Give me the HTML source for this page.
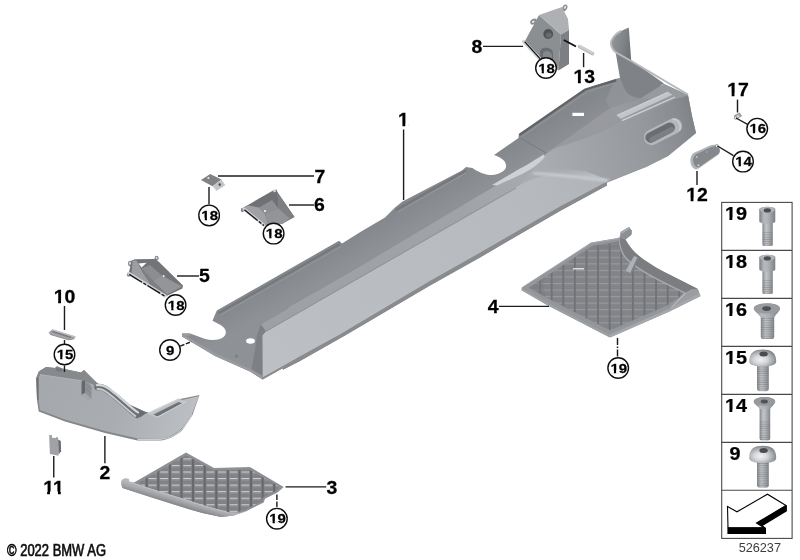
<!DOCTYPE html>
<html><head><meta charset="utf-8">
<style>
html,body{margin:0;padding:0;background:#fff;}
body{width:800px;height:560px;overflow:hidden;position:relative;font-family:"Liberation Sans",sans-serif;}
svg{position:absolute;left:0;top:0;display:block;}
text{font-family:"Liberation Sans",sans-serif;}
.lb{font-weight:bold;font-size:18px;fill:#000;text-anchor:middle;stroke:#000;stroke-width:0.25;}
.tb{font-weight:bold;font-size:18px;fill:#000;text-anchor:middle;stroke:#000;stroke-width:0.25;}
.cn{font-weight:bold;font-size:12.8px;fill:#000;text-anchor:middle;stroke:#000;stroke-width:0.25;}
.ld{stroke:#1c1c1c;stroke-width:1.4;fill:none;}
.cc{stroke:#111;stroke-width:1.4;fill:#fff;}
</style></head><body>
<svg width="800" height="560" viewBox="0 0 800 560">
<defs>
<filter id="soft" x="-5%" y="-5%" width="110%" height="110%"><feGaussianBlur stdDeviation="0.55"/></filter>
<filter id="soft2" x="-5%" y="-5%" width="110%" height="110%"><feGaussianBlur stdDeviation="0.35"/></filter>
<filter id="soft3" x="-2%" y="-2%" width="104%" height="104%"><feGaussianBlur stdDeviation="0.22"/></filter>
</defs>
<rect width="800" height="560" fill="#fff"/>

<!-- PARTS -->
<g id="parts" filter="url(#soft)">
<g id="p1">
<defs>
<linearGradient id="g1front" gradientUnits="userSpaceOnUse" x1="260" y1="350" x2="600" y2="160">
<stop offset="0" stop-color="#bcbfc3"/><stop offset="0.8" stop-color="#b6b9bd"/><stop offset="1" stop-color="#b0b3b7"/>
</linearGradient>
<linearGradient id="g1blk" gradientUnits="userSpaceOnUse" x1="540" y1="160" x2="700" y2="120">
<stop offset="0" stop-color="#a9acb0"/><stop offset="0.3" stop-color="#a0a3a7"/><stop offset="0.65" stop-color="#95989c"/><stop offset="0.88" stop-color="#888b8f"/><stop offset="1" stop-color="#7c7f83"/>
</linearGradient>
<linearGradient id="g1soft" gradientUnits="userSpaceOnUse" x1="575" y1="166" x2="577" y2="181">
<stop offset="0" stop-color="#b6b9bd" stop-opacity="0"/><stop offset="0.8" stop-color="#babdc1" stop-opacity="1"/><stop offset="1" stop-color="#b7babe"/>
</linearGradient>
<linearGradient id="g1band" gradientUnits="userSpaceOnUse" x1="261" y1="324" x2="546" y2="155">
<stop offset="0" stop-color="#9da0a4"/><stop offset="0.7" stop-color="#a0a3a7"/><stop offset="1" stop-color="#a9acb0"/>
</linearGradient>
<linearGradient id="g1w1" gradientUnits="userSpaceOnUse" x1="612" y1="40" x2="631" y2="44">
<stop offset="0" stop-color="#909397"/><stop offset="0.6" stop-color="#808387"/><stop offset="1" stop-color="#707377"/>
</linearGradient>
<filter id="blur1" x="-10%" y="-100%" width="120%" height="300%"><feGaussianBlur stdDeviation="0.9"/></filter>
<linearGradient id="g1top" gradientUnits="userSpaceOnUse" x1="300" y1="265" x2="312.9" y2="287.6">
<stop offset="0" stop-color="#84878b"/><stop offset="1" stop-color="#8e9195"/>
</linearGradient>
</defs>
<!-- base dark silhouette (top face) -->
<path fill="url(#g1top)" d="M216.8,310.6 L339,240.8 L342,243.4 L362,231 L385,217.5 L395,207.5 L402.5,201.5 L462,170.5 L466,167 L472.5,168 C478,172 486,175.5 493,175 C501,174 507,170 506,165 C505.5,160 500,157 494,155 L518.5,138 L518.5,135.4 L585,89.2 L594,86 L615,79 L620,78 L640,80 L688,95 L692,116 L696,133 L668,156 L646,167 L606.9,182.7 L606.9,185.4 L560,210.9 L480,257.5 L430,285.6 L345,335.5 L300,361 L283,369.8 L282.6,368.2 L262.6,379.4 L251,372 L215,356 L191,341.7 L182,336.5 L182,333.5 L190.2,333.5 L204.5,338.7 C212,341 220,340 223.5,337 C227,334 227,329 221,325.2 L212.5,320.7 Z"/>
<!-- rim highlight lines along top-left edge -->

<path d="M219.5,315.6 L341,246.6 M398,212 L466,173" stroke="#9c9fa3" stroke-width="0.9" fill="none" opacity="0.8"/>
<path d="M218.4,313.4 L340,244 M396,210 L466,170.5" stroke="#75787c" stroke-width="2.2" fill="none"/>
<!-- platform rim light edge -->
<path d="M519.2,135 L584.8,89.8 L594,86.8 L616,80.4" stroke="#606266" stroke-width="2.2" fill="none"/>
<path d="M521,137.4 L586,92.4 L595,89.2 L616,83" stroke="#9a9ca0" stroke-width="0.9" fill="none" opacity="0.8"/>
<path d="M520.5,138 L546,153" stroke="#787b7f" stroke-width="1" fill="none"/>
<!-- white slot -->
<rect x="572.4" y="112.8" width="11.6" height="3.2" fill="#fff"/>
<!-- mid band -->
<polygon fill="url(#g1band)" points="260.9,324.4 286,310 290,306.5 350,272.5 480,195 512,176 540,160 546,155 552,158 520,186 480,209 265.6,331.8 265,330"/>
<!-- block front (medium) -->
<path fill="url(#g1blk)" d="M546,154 L609.5,108.7 L622,104 L640,99 L650,93 L664,84 L688,95 L692,116 L696,133 L668,156 L646,167 L606,182 L560,176 L518,187 Z"/>
<!-- platform front slope (upper zone) -->
<path fill="#989a9e" d="M546,153.6 L609.5,108.7 L616,113 L624,119 L620,121.4 L604,131 L580,140 L548,150.4 Z"/>
<!-- front face (light) -->
<path fill="url(#g1front)" d="M265.6,331.4 L480,208.4 L520,185 C532,178 545,174.5 560,174.5 C578,175 595,178 606,181 L606,182 L560,206.7 L480,253 L430,281.3 L340,334.6 L300,356.6 L262.5,377.8 L262.3,335.5 Z"/>
<path fill="url(#g1soft)" d="M528,174 L545,166 L585,171 L607,179.6 L607,182.6 C590,178 570,175.6 548,176.4 Z"/>
<path d="M534,173.4 C545,173.6 565,175.8 582.5,178 C592,179.2 600,180 608,180" stroke="#cfd2d6" stroke-width="2.6" fill="none" stroke-linecap="round" opacity="0.75" filter="url(#blur1)"/>
<path d="M265.6,331.6 L480,208.6 L516,188" stroke="#7f8285" stroke-width="0.9" fill="none" opacity="0.8"/>
<!-- lit crease -->
<path fill="#ced1d5" d="M543.4,154.4 C538,158 530,163 520,168.6 L492,185 L497,185.6 L523,173.4 C533,168.4 541,162 545,156.4 Z"/>
<!-- bottom thin edge -->
<path fill="#898b8f" d="M606.9,182.2 L606.9,185.4 L560,210.9 L480,257.5 L430,285.6 L345,335.5 L300,361 L283,369.8 L282.6,368.2 L262.6,379.4 L262.5,377.6 L300,356.4 L340,334.4 L430,281.1 L480,252.8 L560,206.5 Z"/>
<!-- left end corner (dark) -->
<polygon fill="#7d8084" points="260.9,324.4 265,330 265.6,331.4 262.3,335.5 262.5,379.2 251,372 255,350 257,335"/>
<!-- flange lighter bottom edge -->
<path fill="#989b9f" d="M182,333.5 L190.2,333.5 L192,335.6 L186,336 L193,340 L216,353.4 L252,369.4 L262.6,376 L262.6,379.4 L251,372 L215,356 L191,341.7 L182,336.5 Z"/>
<circle cx="236.4" cy="356" r="1.5" fill="#727578"/>
<circle cx="236.2" cy="355.8" r="0.7" fill="#8f9296"/>
<!-- hole at left end -->
<ellipse cx="250.5" cy="341" rx="4.4" ry="2.8" fill="#fff"/>
<!-- wall -->
<path fill="url(#g1w1)" d="M620,31.5 L628.8,27.5 L631.2,60.5 L617.5,53.5 C613,50 610.8,46 611,42.5 C611.5,38 615,34 620,31.5 Z"/>
<path fill="#7f8286" d="M615.6,52.2 L630.4,59.6 L664,83.6 L650,92.5 L641,98 C634,98 628,95 625,90 L620,78 Z"/>
<path fill="#93969a" d="M620,78 L625,90 C628,95 634,98 641,98 L622,104 L609.5,108.7 L606,100 L612,86 Z" opacity="0.75"/>
<!-- wall rim -->
<path d="M621,31 C614.4,34.4 610.6,40 611,44 C611.6,48.6 614,51.4 617.5,53.4 L631.2,61 L650,72.2 L665,81 L688,94.6" stroke="#b6b9bc" stroke-width="2" fill="none" stroke-linejoin="round"/>
<!-- top surface right of wall -->
<path fill="#979a9e" d="M664,84 L688,95.5 L676,99 L668,92.4 L652,99 L641,98 L650,92.5 Z"/>
<!-- rail -->
<polygon fill="#989b9f" points="616,115.6 620.5,120.6 625.5,122 676,98.6 673,94 668,91.6"/>
<polygon fill="#c2c5c9" points="616.4,115.2 668,91.8 672.5,94.8 621,118.8"/>
<path d="M617,115.4 L668,92.2" stroke="#d0d3d6" stroke-width="1" fill="none"/>
<path d="M622,120.6 L675,97" stroke="#d1d4d8" stroke-width="1.2" fill="none"/>
<!-- oval opening -->
<g transform="translate(663,131.6) rotate(-27)">
<rect x="-20.5" y="-7.8" width="41" height="15.6" rx="7.8" fill="#b4b7bb"/>
<rect x="-19" y="-5.6" width="32" height="10.4" rx="5.2" fill="#6a6d71"/>
<rect x="-16" y="-0.5" width="27" height="5" rx="2.5" fill="#7c7f83"/>
<path d="M14,-6.5 C19,-5 20,3 15,6.5" stroke="#cacdd0" stroke-width="1.5" fill="none"/>
</g>
</g>

<g id="p8">
<!-- tabs -->
<ellipse cx="533.6" cy="21.6" rx="3.6" ry="2.6" fill="#8a8c90" transform="rotate(-30 533.6 21.6)"/>
<ellipse cx="533.2" cy="21.8" rx="1.5" ry="1" fill="#e4e4e6" transform="rotate(-30 533.2 21.8)"/>
<ellipse cx="564.8" cy="7.8" rx="2.4" ry="3.4" fill="#8a8c90" transform="rotate(25 564.8 7.8)"/>
<ellipse cx="565" cy="7.4" rx="1" ry="1.6" fill="#e4e4e6" transform="rotate(25 565 7.4)"/>
<polygon fill="#8c8f92" points="539,15 561,34.5 558.5,70.5 540,58 525,41"/>
<polygon fill="#aeb0b4" points="539,15 562,7 568,19 569,30 561,34.5"/>
<polygon fill="#7c7f83" points="561,34.5 569,30 569,64 558.5,70.5"/>
<circle cx="548.2" cy="34" r="4.9" fill="#505357"/>
<ellipse cx="548.8" cy="35.2" rx="3" ry="2.6" fill="#686b6e"/>
<path d="M540,57.5 L540,52 C540,46 552.5,46.5 553,53 L553,60.5 L548,63.5 Z" fill="#6b6e72"/>
<path d="M543,59 L543,53.5 C544,50 551,50 552,55 L552,61 L548,63 Z" fill="#84878b"/>
<!-- bolt -->
<path d="M523.6,41.6 L539.5,58.5" stroke="#d0d3d7" stroke-width="3.4" stroke-linecap="round"/>
<path d="M524.6,41.6 L540,58.6" stroke="#111" stroke-width="1.3"/>
<!-- pin 13 -->
<path d="M563.8,40 L576,46.4" stroke="#111" stroke-width="1.7"/>
<path d="M579.5,46.6 L592.5,53.6" stroke="#bcbfc3" stroke-width="3.6" stroke-linecap="round"/>
<path d="M579.5,46 L592.5,53" stroke="#d3d6d8" stroke-width="1.2" stroke-linecap="round"/>
</g>

<g id="p7">
<polygon fill="#808286" points="200.9,180 210.2,174 221.5,179.6 212.5,186.2"/>
<polygon fill="#c3c5c8" points="212.5,186.2 221.5,179.6 225.3,185.2 216.2,191"/>
<path d="M213,186.4 L216.4,190.6" stroke="#e2e3e5" stroke-width="1"/>
<rect x="218.6" y="183.4" width="2.2" height="2.4" fill="#55575b" transform="rotate(-30 219.6 184.5)"/>
<circle cx="208.4" cy="178.1" r="1" fill="#eeeeee"/>
</g>
<g id="p6">
<ellipse cx="242.4" cy="210" rx="1.6" ry="2.2" fill="#86888c"/>
<polygon fill="#6f7175" points="243.5,207.5 274,190 276.5,189.4 277.4,192 294.5,217 282,224 265,225.4 244,209.8"/>
<polygon fill="#9fa1a5" points="243.5,207.5 248,205.5 259,207.5 265,214 268,224 265,225.4 244,209.8"/>
<polygon fill="#8d8f93" points="259,207.5 272,200 278,208 265,214"/>
<polygon fill="#7d7f83" points="277,192 294.5,217 290,218.5 278,208 278,199"/>
<polygon fill="#929498" points="265,214 278,208 290,218.5 282,224 268,224"/>
<circle cx="265" cy="211" r="1.1" fill="#f4f4f4"/>
<ellipse cx="274.6" cy="191" rx="1.5" ry="1.1" fill="#dcdcde" transform="rotate(-30 274.6 191)"/>
<path d="M244,209 L263.6,225" stroke="#cfd1d4" stroke-width="3" stroke-linecap="round"/>
<path d="M244.4,209.8 L264,225.6" stroke="#111" stroke-width="1.3" stroke-dasharray="17,1.6,3.2,1.6"/>
</g>
<g id="p5">
<ellipse cx="130.2" cy="263.6" rx="2.2" ry="2.8" fill="#86888c"/><ellipse cx="130" cy="263.4" rx="0.9" ry="1.3" fill="#e8e8ea"/>
<ellipse cx="128.6" cy="274.6" rx="1.8" ry="2.2" fill="#86888c"/>
<ellipse cx="156.6" cy="258.2" rx="2" ry="2.4" fill="#86888c"/><ellipse cx="156.6" cy="257.8" rx="0.8" ry="1.1" fill="#e8e8ea"/>
<polygon fill="#727478" points="131.5,260.6 135,259.2 155,259 158.5,261.6 183,285.5 182.4,288.4 166,296.2 128.6,273.4 130,268"/>
<polygon fill="#9c9ea2" points="132.6,260.4 136.5,260.4 143,273 150.5,283.4 145,283.6 131.6,273.6"/>
<polygon fill="#8b8d91" points="141.5,268.5 150,265 162,275.5 153,281"/>
<polygon fill="#939599" points="153,281 162,275.5 182,286.4 167,294.6"/>
<polygon fill="#7d7f83" points="141.5,268.5 153,281 167,294.6 150.5,284.6 143,273"/>
<polygon fill="#fff" points="138.5,263.4 146.6,262.8 141.6,267.6"/>
<circle cx="163.6" cy="276" r="1" fill="#f2f2f2"/>
<path d="M128.8,273.4 L165.2,295.8" stroke="#cfd1d4" stroke-width="3.2" stroke-linecap="round"/>
<path d="M129.2,274.4 L165.6,296.6" stroke="#111" stroke-width="1.3" stroke-dasharray="15,1.6,3.2,1.6"/>
</g>

<g id="p2">
<defs>
<linearGradient id="g2f" gradientUnits="userSpaceOnUse" x1="40" y1="390" x2="190" y2="430">
<stop offset="0" stop-color="#a5a8ac"/><stop offset="0.5" stop-color="#a9acb0"/><stop offset="0.8" stop-color="#b4b7bb"/><stop offset="1" stop-color="#bcbfc3"/>
</linearGradient>
</defs>
<!-- silhouette / bottom edge dark -->
<path fill="#85888b" d="M38.7,371.5 L46,367 L55,368 L57,366.3 L62,368.6 L81,372.6 L84,370 L95,381 L100,385 L120,400 L137.5,411 L150,412.5 L180,399 L199.5,395 L192.5,415 L182.5,430 C176,436 168,440 160,440.5 L137.5,440.5 L105,433 L65,421.6 L38.7,411.6 L37,400 L36.2,377.5 Z"/>
<!-- front face -->
<path fill="url(#g2f)" d="M40,374.4 L80.5,380.4 L92,384.6 L100,387 L120,402 L137.5,412.5 L150,414 L180,400.5 L199,396 L192,414 L181.5,428.6 C175,434.6 167,438.6 160,438.8 L138,438.6 L105,431 L65,419.6 L40,410 L38.5,399 L38.5,378 Z"/>
<!-- top face -->
<polygon fill="#878a8d" points="38.7,371.5 46,367 55,368 57,366.3 62,368.6 81,372.6 84,370 96,382 92,384.6 80.5,380.4 40,374.4"/>
<path d="M40,374.6 L80.5,380.6 L93,385" stroke="#b4b7bb" stroke-width="0.9" fill="none"/>
<polygon fill="#777a7d" points="56,367.4 62,368.8 62,372 56,370.8"/>
<!-- left side dark -->
<polygon fill="#6f7275" points="36.2,378 38.6,377.4 38.6,400 37,399.6"/>
<!-- clip detail -->
<polygon fill="#66696c" points="81.5,381.5 85,380 85,393 81.5,395"/>
<polygon fill="#8f9295" points="85,380 91.5,386 91.5,399 85,393"/>
<path d="M85.4,384 L91.4,389.6 M85.4,388 L91.4,393.6" stroke="#7c7f82" stroke-width="0.8" fill="none"/>
<polygon fill="#a3a6a9" points="81.5,395 85,393 91.5,399 88,400.4"/>
<!-- dark region behind rail -->
<polygon fill="#6b6e72" points="118.5,399.6 147,412.6 140,417.6 128,409"/>
<!-- rail (curved tube) -->
<path d="M97.4,387.2 C104,386 108,391 116,397 C124,403.6 130,410 137,415" stroke="#6d7074" stroke-width="6.4" fill="none" stroke-linecap="round"/>
<path d="M96.8,385.2 C104,384 108.6,388.6 116.6,394.6 C124.6,401.2 130.6,407.4 138,412.4" stroke="#d3d6d8" stroke-width="2.3" fill="none" stroke-linecap="round"/>
<path d="M97.4,389 C103,388.4 108,393 114.6,398.4 C122.6,405 128.4,411 135.4,416" stroke="#cacdd1" stroke-width="1.8" fill="none" stroke-linecap="round"/>
<!-- right arm rail -->
<polygon fill="#c0c3c7" points="147,413.2 178.5,398.6 186.5,401.4 156.5,418"/>
<polygon fill="#707377" points="153.5,414.4 178.6,402 182.5,403.4 157.5,416.4"/>
<path d="M147.6,413.4 L178.6,399" stroke="#d3d5d8" stroke-width="1.1" fill="none"/>
<path d="M156.5,417.6 L186,401.6" stroke="#cfd2d5" stroke-width="1" fill="none"/>
<!-- bottom light edge near tip -->
<path d="M137.5,439.4 L160,439.4 C168,439 176,435 182,429.4 L192,415" stroke="#cbced1" stroke-width="1.1" fill="none"/>
</g>
<g id="p10">
<polygon fill="#a3a5a9" points="48.5,332.4 52.5,329.2 75.8,336.4 74.2,338.8 68.6,339.8 50,334.2"/>
<path d="M52.4,331.6 L71,337.4" stroke="#7b7d81" stroke-width="1.6"/>
<path d="M52,329.8 L75,336.8" stroke="#c6c8cb" stroke-width="0.9"/>
<path d="M50,334.4 L68.6,339.8 L74.2,338.8" stroke="#85878b" stroke-width="0.9" fill="none"/>
</g>
<g id="p11">
<polygon fill="#a0a2a6" points="49.1,435.1 51.8,435.1 52.1,437.8 55.9,438.1 56.2,437 58.1,437.4 58.5,455.8 49.9,453.9"/>
<polygon fill="#6c6e72" points="58.1,439.6 60.8,441.1 61.1,451.2 58.5,454.6"/>
</g>

<g id="p3">
<defs>
<pattern id="mesh3" patternUnits="userSpaceOnUse" x="192.1" y="471.5" width="11.6" height="6.55">
<rect width="11.6" height="6.55" fill="#808286"/>
<rect x="2.8" y="0" width="8" height="1.2" fill="#cdcfd2"/>
<rect x="2.8" y="1.2" width="8" height="1.5" fill="#8d8f93"/>
<rect x="0" y="0" width="1.9" height="6.55" fill="#65676b"/>
</pattern>
<linearGradient id="lip3" gradientUnits="userSpaceOnUse" x1="163" y1="491.6" x2="160.4" y2="500.4">
<stop offset="0" stop-color="#b6b8bc"/><stop offset="0.45" stop-color="#a6a8ac"/><stop offset="1" stop-color="#85878b"/>
</linearGradient>
</defs>
<!-- body -->
<path fill="#8e9094" d="M121.5,481.5 L122,480 L125,478.5 L129,479 L128.5,481.5 L134,482.5 L186,452.4 L214,468 L250,467 L283.7,486.9 L277.5,492.5 L265,498.7 L263.7,502.5 L246.2,511.2 L233.7,515.6 L221.2,516.9 L202.5,513.1 L190,509.4 L155,498.5 L122.5,488 L121.5,485 Z"/>
<path fill="url(#mesh3)" d="M138.5,482.6 L186,455.2 L213.4,470.4 L249.4,469.4 L280,487 L275,491.6 L263,497.6 L261.6,501.4 L245.4,509.4 L233.4,513.4 L221.2,514.4 L203,510.6 L155,495.6 Z"/>
<!-- lip -->
<path fill="url(#lip3)" d="M121.5,481.5 L122,480 L125,478.5 L129,479 L128.6,481.4 L148.7,488 L182.5,498.6 L208.7,506.9 L227.5,511.9 L240,512.7 L247,510.8 L246.2,511.2 L233.7,515.6 L221.2,516.9 L202.5,513.1 L190,509.4 L155,498.5 L122.5,488 L121.5,485 Z"/>
<path d="M129,481.8 L148.7,488.4 L182.5,499 L208.7,507.3 L227.5,512.3" stroke="#c2c4c7" stroke-width="0.9" fill="none"/>
</g>

<g id="p4">
<defs>
<pattern id="mesh4" patternUnits="userSpaceOnUse" x="573.9" y="269.9" width="11.6" height="6.55">
<rect width="11.6" height="6.55" fill="#828488"/>
<rect x="0" y="0" width="11.6" height="1.1" fill="#999b9f"/>
<rect x="0" y="0" width="1.9" height="6.55" fill="#707277"/>
</pattern>
</defs>
<!-- body outline / rim -->
<path fill="#93969a" d="M521.6,287.7 L591,242.6 L619.5,237.8 L620.7,231.9 L629,227 L631.8,230.7 L631.4,234.7 L625.4,239.5 C629,246 633,251 638.5,255.6 C645,261 653,266 662.3,271 L697.9,288.9 L700.3,296 L669.4,311.4 L610,337.6 L548.3,305.5 L521.6,290 Z"/>
<!-- mesh region -->
<path fill="url(#mesh4)" d="M529,287.8 L592,246 L618.6,241.6 C619,248 620.6,253 625,258 C633,266.6 646,274 662,282 L684,293.4 L669,304.6 L610,330.6 L550,299.6 Z"/>
<!-- darker mesh corners -->
<path fill="#787b7f" opacity="0.45" d="M529,287.8 L545,277.4 L543,284 L546,297.6 Z M592,246 L617.6,242 L618,247 L600,249 Z"/>
<!-- right curved band -->
<path fill="#7b7d81" d="M617.6,242 L619.5,237.8 L625.4,239.5 C629,246 633,251 638.5,255.6 C645,261 653,266 662.3,271 L697.5,288.8 L691,289.6 L685,293 L662,281.6 C646,273 634,266 626,258 C621,253 618.6,248 617.6,242 Z"/>
<path d="M619,237 C619,244 620.4,250 625,257 C633,266 646,273.6 662,281.6 L685,293" stroke="#a9abaf" stroke-width="1.2" fill="none"/>
<!-- light wedge at right end -->
<polygon fill="#9b9da1" points="685,293 691.2,289.4 697.5,289.2 700.4,295.4 670,309.6"/>
<path d="M685.4,293 L670.4,308.6" stroke="#b9bbbf" stroke-width="1.1" fill="none"/>
<!-- rib -->
<polygon fill="#aeb1b5" points="625.6,271 634,256 637.6,257.2 630.4,273"/>
<polygon fill="#7d8084" points="630.4,273 637.6,257.2 638.8,258.4 632,273.6"/>
<!-- tab -->
<polygon fill="#8c8f93" points="620.7,231.9 629,227 631.8,230.7 631.4,234.7 625.4,239.5 621.5,238"/>
<polygon fill="#a8abaf" points="620.7,231.9 629,227 630,228.4 622.4,233.4"/>
<!-- white dash -->
<rect x="573" y="268.2" width="11" height="1.2" fill="#f2f2f2"/>
<!-- front edges lighter -->
<path d="M522,289.2 L548.3,304.4 L610,336.2" stroke="#9c9fa3" stroke-width="2.4" fill="none"/>
<path d="M610,336 L669.4,310 L700,294.8" stroke="#a4a7ab" stroke-width="3" fill="none"/>
<!-- top-left rim light line -->
<path d="M522.4,287.4 L591.2,243.2 L619.5,238.4" stroke="#a5a8ac" stroke-width="1" fill="none"/>
</g>

<g id="p12">
<path fill="#b1b4b8" d="M690.3,160 C690.6,156.6 692,154 693.6,152.9 L710,145.4 C713,144.4 716,144.6 717.1,145.7 C719.4,147 720.4,149.4 720,151.4 C719.6,153 719,154.2 717.9,155 L698.6,168.6 C697,169.6 695.4,169.6 694.3,168.8 C692.4,167.6 691,165.6 690.7,163.6 Z"/>
<path fill="#85888c" d="M693,159.6 C693.4,157 694.6,155 696.4,154 L710.6,147.2 C713.4,146 716.4,146 717.6,147 C719.4,148.2 720,150 719.6,151.6 C719.2,153 718.4,154 717.4,154.6 L699.6,166.8 C698.2,167.6 696.8,167.4 695.8,166.6 C694.2,165.4 693.2,163 693,159.6 Z"/>
<circle cx="698.4" cy="165.2" r="1" fill="#d2d3d6"/>
<circle cx="696.8" cy="157" r="0.9" fill="#c6c7ca"/>
<circle cx="707" cy="152" r="0.8" fill="#aeb1b5"/>
<circle cx="716.8" cy="146" r="1.5" fill="#efefef" stroke="#666" stroke-width="0.6"/>
</g>
<g id="p17">
<polygon fill="#9da0a4" points="733.7,115.4 739.6,112.6 742.2,116 736.4,119.4"/>
<polygon fill="#d0d3d7" points="735.4,116.4 738.6,114.8 739.8,116.6 736.6,118.2"/>
<circle cx="735.6" cy="118" r="1.3" fill="#fff" stroke="#666" stroke-width="0.6"/>
</g>

</g>

<!-- TABLE -->
<g id="table" filter="url(#soft3)">
<defs>
<linearGradient id="mh" x1="0" x2="1" y1="0" y2="0">
<stop offset="0" stop-color="#7a7d81"/><stop offset="0.3" stop-color="#b7babe"/><stop offset="0.55" stop-color="#aeb1b5"/><stop offset="1" stop-color="#7e8185"/>
</linearGradient>
<linearGradient id="ms" x1="0" x2="1" y1="0" y2="0">
<stop offset="0" stop-color="#85888c"/><stop offset="0.35" stop-color="#c2c5c9"/><stop offset="0.6" stop-color="#b0b3b7"/><stop offset="1" stop-color="#82858a"/>
</linearGradient>
<radialGradient id="mb" cx="0.42" cy="0.6" r="0.62">
<stop offset="0" stop-color="#f2f2f4"/><stop offset="0.4" stop-color="#d4d6d9"/><stop offset="0.75" stop-color="#a4a7ab"/><stop offset="1" stop-color="#7b7e82"/>
</radialGradient>
<pattern id="thr" patternUnits="userSpaceOnUse" width="20" height="2.2"><rect width="20" height="2.2" fill="none"/><rect y="1.3" width="20" height="0.9" fill="#6d7074" opacity="0.45"/></pattern>
<g id="capscrew">
<rect x="762.4" y="221" width="10.4" height="25" rx="1.6" fill="url(#ms)"/>
<rect x="762.4" y="232" width="10.4" height="14" rx="1.4" fill="url(#thr)"/>
<path d="M759.3,209.4 C759.3,206 775.3,206 775.3,209.4 L775.3,221.6 C775.3,224.4 759.3,224.4 759.3,221.6 Z" fill="url(#mh)"/>
<ellipse cx="767.3" cy="209.6" rx="7.6" ry="2.9" fill="#b1b4b8"/>
<ellipse cx="767.3" cy="210.4" rx="3.6" ry="2.1" fill="#4c4e52"/>
</g>
<g id="button">
<rect x="757" y="362" width="11.8" height="29.2" rx="2.4" fill="url(#ms)"/>
<rect x="757" y="366" width="11.8" height="25" rx="2" fill="url(#thr)"/>
<path d="M749.2,361.5 C749.2,352 755,349.4 762.6,349.4 C770.4,349.4 776.2,352 776.2,361.5 C776.2,365 770,366.6 762.6,366.6 C755.4,366.6 749.2,365 749.2,361.5 Z" fill="url(#mb)"/>
<ellipse cx="763.6" cy="354" rx="4.2" ry="2.5" fill="#4a4c50"/>
</g>
</defs>
<use href="#capscrew"/>
<use href="#capscrew" y="48"/>
<!-- 16 countersunk -->
<g>
<rect x="760.8" y="314" width="13.4" height="25" rx="2.2" fill="url(#ms)"/>
<rect x="760.8" y="317" width="13.4" height="22" rx="2" fill="url(#thr)"/>
<path d="M753.8,308.6 C753.8,301.6 780,301.6 780,308.6 C780,311 776,314.4 774.2,317.4 L760.8,317.4 C759,314.4 753.8,311 753.8,308.6 Z" fill="url(#mh)"/>
<ellipse cx="766.9" cy="308.4" rx="13" ry="5.2" fill="#989b9f"/>
<ellipse cx="766.6" cy="308.6" rx="4.4" ry="2.4" fill="#4f5155"/>
</g>
<use href="#button"/>
<!-- 14 countersunk long -->
<g>
<rect x="759.6" y="407" width="10.6" height="33.4" rx="2.2" fill="url(#ms)"/>
<rect x="759.6" y="420" width="10.6" height="20.4" rx="2" fill="url(#thr)"/>
<path d="M753.8,401.6 C753.8,395.6 775.2,395.6 775.2,401.6 C775.2,404 771.6,406.6 770.2,409 L759.6,409 C758.2,406.6 753.8,404 753.8,401.6 Z" fill="url(#mh)"/>
<ellipse cx="764.5" cy="401.4" rx="10.6" ry="4.4" fill="#96999d"/>
<ellipse cx="764.3" cy="401.6" rx="3.6" ry="2" fill="#515357"/>
</g>
<use href="#button" y="96.4"/>

<g stroke="#4a4a4a" stroke-width="1.1" fill="none">
<rect x="721.7" y="202.4" width="70.4" height="336"/>
<path d="M721.7,250.4H792.1M721.7,298.4H792.1M721.7,346.4H792.1M721.7,394.4H792.1M721.7,442.4H792.1M721.7,490.3H792.1"/>
</g>
<polygon points="727.5,506.5 737,511.8 767.5,494.2 786,505.5 756.5,523 764,527.8 728,527.8" fill="#fff" stroke="#000" stroke-width="1.1" stroke-linejoin="miter"/>
<polygon points="756.5,523 786,505.2 786.9,505.4 786.9,511.2 763,525.8 766,528 766,534 727.4,534 727.4,527.6 764,527.6" fill="#000"/>
<text class="tb" transform="translate(735.9,220.3) scale(1.1,1)">19</text>
<text class="tb" transform="translate(735.9,268.3) scale(1.1,1)">18</text>
<text class="tb" transform="translate(735.9,316.3) scale(1.1,1)">16</text>
<text class="tb" transform="translate(735.9,364.3) scale(1.1,1)">15</text>
<text class="tb" transform="translate(735.9,412.3) scale(1.1,1)">14</text>
<text class="tb" transform="translate(735,460.3) scale(1.1,1)">9</text>
</g>

<!-- LEADERS + LABELS -->
<g id="labels" filter="url(#soft3)">
<!-- leaders -->
<g class="ld">
<path d="M403.6,129.5V200"/>
<path d="M104.9,436V463.2"/>
<path d="M285.5,486.9H326.2"/>
<path d="M499,306.4H549"/>
<path d="M177,276H199"/>
<path d="M289,205H314"/>
<path d="M218,176H314"/>
<path d="M483,46.4H523"/>
<path d="M64.5,306V330"/>
<path d="M53.75,456V477.5"/>
<path d="M697,171V185"/>
<path d="M583.6,53V67.2"/>
<path d="M737.5,99.6V112.5"/>
<path d="M209,187V204.5"/>
<path d="M64.5,365.5V372"/>
<path d="M736,118L748,124.6"/>
<path d="M717.5,146L733.5,155.6"/>
<path d="M64.5,340V344"/>
<path d="M276.9,494.4V507.4" stroke-dasharray="5.5,1.6"/>
<path d="M617.5,338V357" stroke-dasharray="7,1.5,1.5,1.5"/>
<path d="M180.2,346.2L191.6,341.6" stroke-dasharray="4.5,1.5"/>
</g>
<g class="cc">
<circle cx="546" cy="68" r="10.3"/>
<circle cx="209.1" cy="215.4" r="10.3"/>
<circle cx="273.6" cy="233.6" r="10.3"/>
<circle cx="175.6" cy="305" r="10.3"/>
<circle cx="170" cy="350" r="10.3"/>
<circle cx="64.5" cy="354.5" r="10.3"/>
<circle cx="276.9" cy="518.7" r="10.3"/>
<circle cx="618.2" cy="368" r="10.3"/>
<circle cx="757.2" cy="128.7" r="10.3"/>
<circle cx="743" cy="161.6" r="10.3"/>
</g>
</g><g id="labels2" filter="url(#soft3)">
<g class="cn">
<text transform="translate(546.60,72.55) scale(1.17,1)">18</text>
<text transform="translate(209.70,219.95) scale(1.17,1)">18</text>
<text transform="translate(274.20,238.15) scale(1.17,1)">18</text>
<text transform="translate(176.20,309.55) scale(1.17,1)">18</text>
<text transform="translate(170.20,354.55) scale(1.17,1)">9</text>
<text transform="translate(65.10,359.05) scale(1.17,1)">15</text>
<text transform="translate(277.50,523.25) scale(1.17,1)">19</text>
<text transform="translate(618.80,372.55) scale(1.17,1)">19</text>
<text transform="translate(757.80,133.25) scale(1.17,1)">16</text>
<text transform="translate(743.60,166.15) scale(1.17,1)">14</text>
</g>
<g class="lb">
<text transform="translate(403.4,126.4) scale(1.08,1)">1</text>
<text transform="translate(104.9,479) scale(1.08,1)">2</text>
<text transform="translate(331.8,493.6) scale(1.08,1)">3</text>
<text transform="translate(493.1,313) scale(1.08,1)">4</text>
<text transform="translate(204.4,282) scale(1.08,1)">5</text>
<text transform="translate(319.4,211) scale(1.08,1)">6</text>
<text transform="translate(320,183) scale(1.08,1)">7</text>
<text transform="translate(477,52.5) scale(1.08,1)">8</text>
<text transform="translate(64.5,303) scale(1.08,1)">10</text>
<text transform="translate(53.5,494) scale(1.08,1)">11</text>
<text transform="translate(697,201) scale(1.08,1)">12</text>
<text transform="translate(584.3,83) scale(1.08,1)">13</text>
<text transform="translate(738,96) scale(1.08,1)">17</text>
</g>
<text x="7" y="555.6" font-size="17" fill="#111" textLength="99" lengthAdjust="spacingAndGlyphs" stroke="#111" stroke-width="0.7">© 2022 BMW AG</text>
<text x="759.8" y="552.2" font-size="12.7" fill="#3c3c3c" text-anchor="middle">526237</text>
</g><g id="feet" fill="#fff">
<rect x="538.31" y="70.49" width="3.37" height="3.31"/>
<rect x="543.90" y="70.49" width="2.88" height="3.31"/>
<rect x="201.41" y="217.89" width="3.37" height="3.31"/>
<rect x="207.00" y="217.89" width="2.88" height="3.31"/>
<rect x="265.91" y="236.09" width="3.37" height="3.31"/>
<rect x="271.50" y="236.09" width="2.88" height="3.31"/>
<rect x="167.91" y="307.49" width="3.37" height="3.31"/>
<rect x="173.50" y="307.49" width="2.88" height="3.31"/>
<rect x="56.81" y="356.99" width="3.37" height="3.31"/>
<rect x="62.40" y="356.99" width="2.88" height="3.31"/>
<rect x="269.21" y="521.19" width="3.37" height="3.31"/>
<rect x="274.80" y="521.19" width="2.88" height="3.31"/>
<rect x="610.51" y="370.49" width="3.37" height="3.31"/>
<rect x="616.10" y="370.49" width="2.88" height="3.31"/>
<rect x="749.51" y="131.19" width="3.37" height="3.31"/>
<rect x="755.10" y="131.19" width="2.88" height="3.31"/>
<rect x="735.31" y="164.09" width="3.37" height="3.31"/>
<rect x="740.90" y="164.09" width="2.88" height="3.31"/>
<rect x="398.32" y="123.81" width="4.13" height="3.84"/>
<rect x="405.28" y="123.81" width="3.59" height="3.84"/>
<rect x="54.01" y="300.41" width="4.13" height="3.84"/>
<rect x="60.97" y="300.41" width="3.59" height="3.84"/>
<rect x="43.01" y="491.41" width="4.13" height="3.84"/>
<rect x="49.97" y="491.41" width="4.75" height="3.84"/>
<rect x="53.82" y="491.41" width="4.13" height="3.84"/>
<rect x="60.78" y="491.41" width="3.59" height="3.84"/>
<rect x="686.51" y="198.41" width="4.13" height="3.84"/>
<rect x="693.47" y="198.41" width="3.59" height="3.84"/>
<rect x="573.81" y="80.41" width="4.13" height="3.84"/>
<rect x="580.77" y="80.41" width="3.59" height="3.84"/>
<rect x="727.51" y="93.41" width="4.13" height="3.84"/>
<rect x="734.47" y="93.41" width="3.59" height="3.84"/>
<rect x="725.24" y="217.71" width="4.19" height="3.84"/>
<rect x="732.31" y="217.71" width="3.64" height="3.84"/>
<rect x="725.24" y="265.71" width="4.19" height="3.84"/>
<rect x="732.31" y="265.71" width="3.64" height="3.84"/>
<rect x="725.24" y="313.71" width="4.19" height="3.84"/>
<rect x="732.31" y="313.71" width="3.64" height="3.84"/>
<rect x="725.24" y="361.71" width="4.19" height="3.84"/>
<rect x="732.31" y="361.71" width="3.64" height="3.84"/>
<rect x="725.24" y="409.71" width="4.19" height="3.84"/>
<rect x="732.31" y="409.71" width="3.64" height="3.84"/>

</g>
</svg>
</body></html>
